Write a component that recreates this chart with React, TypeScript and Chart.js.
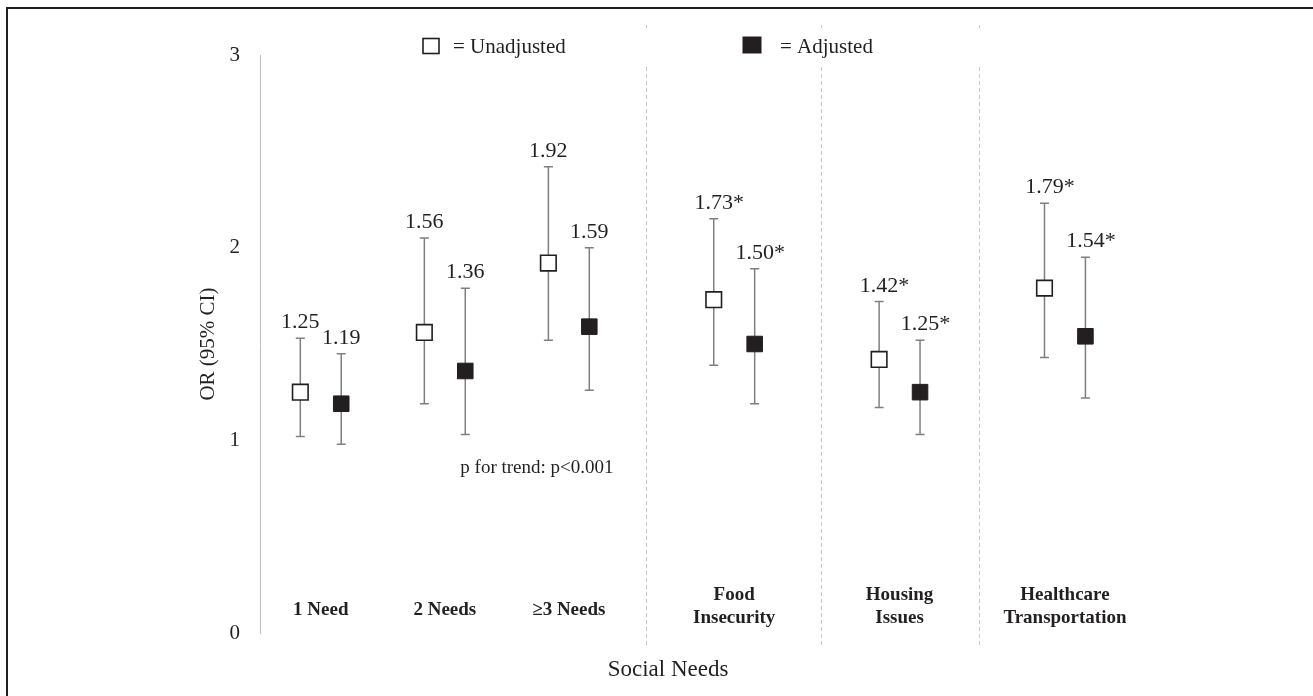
import { useEffect, useRef } from "react";
import { Chart, registerables } from "chart.js";

Chart.register(...registerables);

const categories: string[][] = [
  ["1 Need"],
  ["2 Needs"],
  ["≥3 Needs"],
  ["Food", "Insecurity"],
  ["Housing", "Issues"],
  ["Healthcare", "Transportation"],
];
const groupPositions = [1, 2, 3, 13 / 3, 17 / 3, 7];
const dividerPositions = [3.62, 5.03, 6.31];

const unadjustedOR = [1.25, 1.56, 1.92, 1.73, 1.42, 1.79];
const unadjustedLower = [1.02, 1.19, 1.52, 1.39, 1.17, 1.43];
const unadjustedUpper = [1.53, 2.05, 2.42, 2.15, 1.72, 2.23];
const unadjustedStars = [false, false, false, true, true, true];

const adjustedOR = [1.19, 1.36, 1.59, 1.5, 1.25, 1.54];
const adjustedLower = [0.98, 1.03, 1.26, 1.19, 1.03, 1.22];
const adjustedUpper = [1.45, 1.79, 2.0, 1.89, 1.52, 1.95];
const adjustedStars = [false, false, false, true, true, true];

const yTickValues = [0, 1, 2, 3];
const trendText = "p for trend: p<0.001";
const trendAnchor = { x: 2.125, y: 0.856 };

const FONT = "'Liberation Serif', 'Times New Roman', serif";
const INK = "#231f20";
const OFFSET = 0.165;

export default function App() {
  const ref = useRef<HTMLCanvasElement | null>(null);

  useEffect(() => {
    if (!ref.current) return;

    const overlay = {
      id: "overlay",
      beforeDatasetsDraw(chart: any) {
        const ctx = chart.ctx;
        const xs = chart.scales.x;
        const ys = chart.scales.y;
        ctx.save();
        // dividers
        ctx.strokeStyle = "#c8c8c8";
        ctx.lineWidth = 1;
        ctx.setLineDash([4, 3]);
        dividerPositions.forEach((d) => {
          const px = Math.round(xs.getPixelForValue(d)) + 0.5;
          ctx.beginPath();
          ctx.moveTo(px, 25);
          ctx.lineTo(px, 28);
          ctx.moveTo(px, 67);
          ctx.lineTo(px, ys.bottom + 14);
          ctx.stroke();
        });
        ctx.setLineDash([]);
        // error bars
        ctx.strokeStyle = "#7f7f7f";
        ctx.lineWidth = 1.5;
        const drawBar = (x: number, lo: number, hi: number) => {
          const px = xs.getPixelForValue(x);
          const pl = ys.getPixelForValue(lo);
          const ph = ys.getPixelForValue(hi);
          ctx.beginPath();
          ctx.moveTo(px, pl);
          ctx.lineTo(px, ph);
          ctx.moveTo(px - 4.5, pl);
          ctx.lineTo(px + 4.5, pl);
          ctx.moveTo(px - 4.5, ph);
          ctx.lineTo(px + 4.5, ph);
          ctx.stroke();
        };
        groupPositions.forEach((g, i) => {
          drawBar(g - OFFSET, unadjustedLower[i], unadjustedUpper[i]);
          drawBar(g + OFFSET, adjustedLower[i], adjustedUpper[i]);
        });
        ctx.restore();
      },
      afterDatasetsDraw(chart: any) {
        const ctx = chart.ctx;
        const xs = chart.scales.x;
        const ys = chart.scales.y;
        ctx.save();
        ctx.fillStyle = INK;
        // value labels
        ctx.font = `22px ${FONT}`;
        ctx.textBaseline = "alphabetic";
        ctx.textAlign = "left";
        const drawLabel = (x: number, v: number, hi: number, star: boolean) => {
          const num = v.toFixed(2);
          const w = ctx.measureText(num).width;
          const px = xs.getPixelForValue(x);
          const py = ys.getPixelForValue(hi) - 10;
          ctx.fillText(num + (star ? "*" : ""), px - w / 2, py);
        };
        groupPositions.forEach((g, i) => {
          drawLabel(g - OFFSET, unadjustedOR[i], unadjustedUpper[i], unadjustedStars[i]);
          drawLabel(g + OFFSET, adjustedOR[i], adjustedUpper[i], adjustedStars[i]);
        });
        // category labels
        ctx.font = `bold 19px ${FONT}`;
        ctx.textAlign = "center";
        ctx.textBaseline = "middle";
        categories.forEach((lines, i) => {
          const px = xs.getPixelForValue(groupPositions[i]);
          const start = lines.length === 1 ? ys.bottom - 23 : ys.bottom - 38;
          lines.forEach((t, j) => ctx.fillText(t, px, start + j * 23));
        });
        // trend text
        ctx.font = `19px ${FONT}`;
        ctx.textAlign = "left";
        ctx.fillText(trendText, xs.getPixelForValue(trendAnchor.x), ys.getPixelForValue(trendAnchor.y));
        // x title
        ctx.font = `23px ${FONT}`;
        ctx.textAlign = "center";
        ctx.fillText("Social Needs", 668, 670);
        // legend
        ctx.font = `21px ${FONT}`;
        ctx.textBaseline = "alphabetic";
        ctx.textAlign = "left";
        ctx.strokeStyle = INK;
        ctx.lineWidth = 1.6;
        ctx.fillStyle = "#ffffff";
        ctx.fillRect(423, 38.5, 16, 15);
        ctx.strokeRect(423, 38.5, 16, 15);
        ctx.fillStyle = INK;
        ctx.fillText("= Unadjusted", 453, 53);
        ctx.fillStyle = "#231f20";
        ctx.fillRect(742.5, 36.5, 19, 17);
        ctx.fillStyle = INK;
        ctx.fillText("= Adjusted", 780, 53);
        ctx.restore();
      },
    };

    const chart = new Chart(ref.current, {
      type: "scatter",
      data: {
        datasets: [
          {
            label: "Unadjusted",
            data: groupPositions.map((g, i) => ({ x: g - OFFSET, y: unadjustedOR[i] })),
            pointStyle: "rect",
            pointRadius: 11,
            pointHoverRadius: 11,
            backgroundColor: "#ffffff",
            borderColor: INK,
            borderWidth: 1.6,
          },
          {
            label: "Adjusted",
            data: groupPositions.map((g, i) => ({ x: g + OFFSET, y: adjustedOR[i] })),
            pointStyle: "rect",
            pointRadius: 11,
            pointHoverRadius: 11,
            backgroundColor: "#231f20",
            borderColor: "#231f20",
            borderWidth: 1,
          },
        ],
      },
      options: {
        animation: false,
        responsive: false,
        devicePixelRatio: 1,
        events: [],
        layout: { padding: { top: 55, right: 62, bottom: 0, left: 0 } },
        plugins: { legend: { display: false }, tooltip: { enabled: false } },
        scales: {
          x: {
            type: "linear",
            min: 0.51,
            max: 8.5,
            ticks: { display: false },
            grid: { display: false, drawTicks: false },
            border: { display: false },
            afterFit: (s: any) => {
              s.height = 63;
            },
          },
          y: {
            min: 0,
            max: 3,
            afterBuildTicks: (s: any) => {
              s.ticks = yTickValues.map((v) => ({ value: v }));
            },
            ticks: {
              padding: 20,
              color: INK,
              font: { family: FONT, size: 21 },
              callback: (v: any) => String(v),
            },
            grid: { display: false, drawTicks: false },
            border: { display: true, color: "#bfbfbf", width: 1 },
            title: {
              display: true,
              text: "OR (95% CI)",
              color: INK,
              font: { family: FONT, size: 21, lineHeight: 1.2 },
              padding: { top: 196, bottom: 0 },
            },
            afterFit: (s: any) => {
              s.width = 260;
            },
          },
        },
      },
      plugins: [overlay],
    } as any);

    return () => chart.destroy();
  }, []);

  return (
    <div
      style={{
        position: "fixed",
        left: 0,
        top: 0,
        width: 1313,
        height: 696,
        overflow: "hidden",
        background: "#ffffff",
      }}
    >
      <canvas ref={ref} width={1313} height={696} style={{ position: "absolute", left: 0, top: 0, width: 1313, height: 696 }} />
      <div
        style={{
          position: "absolute",
          left: 6,
          top: 7,
          width: 1400,
          height: 800,
          borderTop: "2px solid #231f20",
          borderLeft: "2px solid #231f20",
          pointerEvents: "none",
        }}
      />
    </div>
  );
}
